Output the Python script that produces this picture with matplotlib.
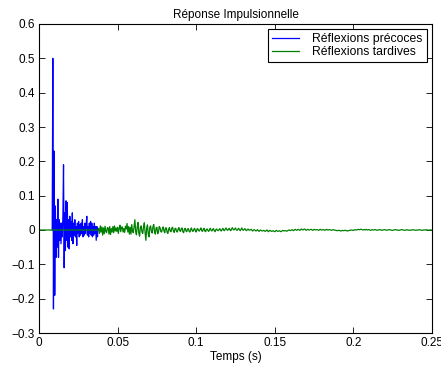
import numpy as np
import matplotlib
matplotlib.use("Agg")
import matplotlib.pyplot as plt
from matplotlib.ticker import FuncFormatter

plt.rcParams['font.family'] = ['Liberation Sans', 'DejaVu Sans']
plt.rcParams['font.size'] = 8.5

# ---- data ----
title = "Réponse Impulsionnelle"
xlabel = "Temps (s)"
legend_labels = ["Réflexions précoces", "Réflexions tardives"]
xticks = [0, 0.05, 0.1, 0.15, 0.2, 0.25]
yticks = [-0.3, -0.2, -0.1, 0, 0.1, 0.2, 0.3, 0.4, 0.5, 0.6]

early_onset = 0.0084
early_step = 0.0004
early_values = [
    0.0, 0.50, -0.23, 0.23, -0.19, 0.07, -0.08, 0.03, -0.05, 0.09,
    -0.08, 0.03, -0.03, 0.02, -0.04, 0.02, -0.02, 0.04, 0.19, -0.11,
    0.05, -0.06, 0.085, -0.03, 0.08, -0.05, 0.03, -0.055, 0.04, -0.02,
    0.025, -0.03, 0.05, -0.04, 0.02, -0.015, 0.03, -0.02, 0.01, -0.045,
    0.02, -0.01, 0.025, -0.02, 0.015, -0.015, 0.02, -0.01, 0.03, -0.02,
    0.01, -0.015, 0.02, -0.01, 0.015, 0.04, -0.015, 0.01, -0.02, 0.02,
    -0.01, 0.025, -0.015, 0.02, -0.02, 0.01, -0.015, 0.02, -0.01, 0.01,
    -0.03, 0.01, -0.02, 0.005, 0.0,
]

late_onset = 0.038
late_step = 0.0005
late_values = [
    0.004, -0.010, 0.012, -0.006, 0.009, -0.015, 0.006, -0.011, 0.011, -0.004, -0.008, 0.007, 0.006, -0.012, 0.010, -0.013, 0.004, -0.006, 0.010, -0.008,
    0.012, -0.003, 0.006, -0.004, 0.008, -0.010, 0.005, 0.014, -0.005, 0.008, 0.009, -0.006, 0.004, -0.007, 0.011, 0.003, 0.019, -0.006, 0.010, -0.012,
    0.008, -0.012, 0.016, -0.004, -0.008, 0.012, 0.030, -0.006, -0.014, 0.010, 0.022, -0.010, -0.018, 0.008, 0.012, -0.006, -0.010, 0.009, 0.021, -0.008,
    -0.030, 0.006, 0.015, -0.012, -0.020, 0.008, 0.012, -0.004, -0.009, 0.010, 0.016, -0.005, -0.012, 0.006, 0.008, -0.011, -0.006, 0.010, 0.007, -0.005,
    -0.006, 0.004, 0.009, -0.003, -0.008, 0.006, 0.006, -0.007, -0.010, 0.003, 0.007, -0.004, -0.005, 0.006, 0.008, -0.003, -0.007, 0.004, 0.005, -0.004,
    -0.006, 0.003, 0.007, -0.002, -0.004, 0.004, 0.006, -0.005, -0.008, 0.002, 0.005, -0.003, -0.005, 0.003, 0.004, -0.004, -0.006, 0.002, 0.006, -0.003,
    -0.004, 0.002, 0.005, -0.003, -0.006, 0.003, 0.004, -0.002, -0.003, 0.002, 0.006, -0.002, -0.004, 0.002, 0.005, -0.003, -0.005, 0.002, 0.003, -0.002,
    -0.004, 0.002, 0.005, -0.001, -0.003, 0.002, 0.004, -0.002, -0.005, 0.001, 0.003, -0.001, -0.002, 0.001, 0.004, -0.001, -0.003, 0.002, 0.005, -0.001,
    -0.002, 0.003, 0.006, 0.001, -0.001, 0.002, 0.005, 0.000, -0.002, 0.003, 0.007, 0.002, 0.000, 0.003, 0.006, 0.001, -0.001, 0.002, 0.005, 0.001,
    -0.002, 0.002, 0.006, 0.001, -0.001, 0.002, 0.004, 0.000, -0.002, 0.001, 0.003, 0.000, -0.001, 0.001, 0.002, -0.001, -0.003, 0.000, 0.001, -0.001,
    -0.003, -0.001, 0.001, -0.002, -0.004, -0.001, 0.000, -0.002, -0.003, -0.002, -0.001, -0.003, -0.004, -0.002, 0.000, -0.003, -0.005, -0.002, -0.001, -0.003,
    -0.004, -0.003, -0.002, -0.004, -0.005, -0.003, -0.001, -0.003, -0.004, -0.003, -0.002, -0.004, -0.005, -0.003, -0.001, -0.002, -0.003, -0.002, -0.002, -0.003,
    -0.003, -0.001, 0.000, -0.001, -0.002, 0.000, 0.001, -0.001, -0.002, 0.001, 0.002, 0.000, -0.001, 0.001, 0.002, 0.000, -0.001, 0.001, 0.003, 0.001,
    0.000, 0.002, 0.003, 0.001, -0.001, 0.001, 0.002, 0.000, 0.000, 0.001, 0.002, 0.001, -0.001, 0.000, 0.002, 0.001, 0.000, 0.001, 0.001, 0.000,
    -0.001, 0.001, 0.002, 0.000, 0.000, 0.001, 0.001, 0.000, -0.001, 0.001, 0.002, 0.000, 0.000, 0.001, 0.001, 0.000, -0.001, 0.000, 0.001, 0.000,
    0.000, -0.001, -0.001, -0.002, -0.002, -0.001, -0.001, -0.002, -0.003, -0.002, -0.001, -0.002, -0.002, -0.001, -0.001, -0.002, -0.003, -0.002, -0.002, -0.001,
    -0.001, 0.000, 0.000, -0.001, -0.001, 0.000, 0.001, 0.000, 0.000, 0.001, 0.002, 0.001, 0.001, 0.002, 0.002, 0.001, 0.000, 0.001, 0.001, 0.000,
    0.002, 0.001, 0.000, 0.001, 0.001, 0.000, -0.001, 0.000, 0.001, 0.000, 0.000, 0.001, 0.001, 0.000, -0.001, 0.000, 0.000, 0.001, 0.001, 0.000,
    -0.001, 0.000, 0.000, 0.001, 0.001, 0.000, -0.001, 0.000, 0.000, 0.001, 0.001, 0.000, 0.000, -0.001, -0.001, 0.000, 0.000, 0.001, 0.001, 0.000,
    0.000, -0.001, -0.001, 0.000, 0.000, 0.001, 0.001, 0.000, 0.000, -0.001, -0.001, 0.000, 0.001, 0.000, 0.000, -0.001, -0.001, 0.000, 0.000, 0.000,
    0.001, 0.000, 0.000, -0.001, -0.001, 0.000, 0.000, 0.000, 0.001, 0.000, 0.000, -0.001, -0.001, 0.000, 0.000, 0.000, 0.001, 0.000, 0.000, 0.000,
    -0.001, 0.000, 0.000, 0.000, 0.000,
]

# ---- build series ----
t_early = early_onset + early_step * np.arange(len(early_values))
y_early = np.array(early_values)

# late series is defined over the whole time span, silent before its onset
n_pre = int(round(late_onset / late_step))
t_late = late_step * np.arange(n_pre + len(late_values))
y_late = np.concatenate([np.zeros(n_pre), np.array(late_values)])

fig = plt.figure(figsize=(4.41, 3.68), dpi=100)
ax = fig.add_axes([39 / 441, 35 / 368, 393 / 441, 309 / 368])

ax.plot(t_early, y_early, color=(0, 0, 1), lw=0.9, label=legend_labels[0])
ax.plot(t_late, y_late, color=(0, 0.5, 0), lw=0.9, label=legend_labels[1])

ax.set_xlim(0, 0.25)
ax.set_ylim(-0.3, 0.6)
ax.set_xticks(xticks)
ax.set_yticks(yticks)
fmt = FuncFormatter(lambda v, p: ("%g" % round(v, 4)).replace("-", "\u2212"))
ax.xaxis.set_major_formatter(fmt)
ax.yaxis.set_major_formatter(fmt)
ax.tick_params(direction='in', length=4, width=0.6, top=True, right=True,
               labelsize=8.5, pad=3, colors='black')
for s in ax.spines.values():
    s.set_linewidth(0.8)
    s.set_color('black')

ax.set_title(title, fontsize=8.5, pad=4)
ax.set_xlabel(xlabel, fontsize=8.5, labelpad=1)

leg = ax.legend(loc='upper right', fontsize=8.8, frameon=True, fancybox=False,
                edgecolor='black', framealpha=1, borderpad=0.3,
                handlelength=2.2, handletextpad=1.1, labelspacing=0.1,
                borderaxespad=0.45)
leg.get_frame().set_linewidth(0.8)

fig.savefig("out.png", dpi=100)
